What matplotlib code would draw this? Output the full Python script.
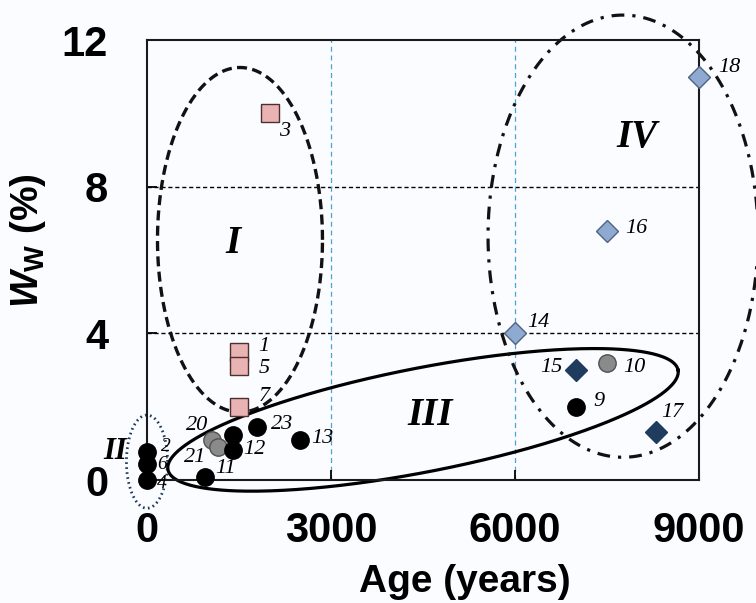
import numpy as np
import matplotlib.pyplot as plt

# --- data ---
# age in years, W_w in %
sq_age = [1500, 2000, 1500, 1500]
sq_ww = [3.5, 10.0, 3.1, 2.0]
sq_lab = ['1', '3', '5', '7']
sq_off = [(25, 5), (15, -18), (25, -2), (25, 10)]

gray_age = [1060, 1160, 7500]
gray_ww = [1.09, 0.90, 3.2]
gray_lab = ['20', '21', '10']
gray_off = [(-15, 15), (-23, -11), (27, -5)]

black_age = [0, 0, 0, 950, 1400, 1400, 1800, 2500, 7000]
black_ww = [0.76, 0.45, 0.0, 0.08, 0.82, 1.23, 1.45, 1.09, 2.0]
black_lab = ['2', '6', '4', '11', '12', '', '23', '13', '9']
black_off = [(19, 6), (15, -1), (15, -3), (20, 9), (21, 0), (0, 0), (25, 2), (22, 2), (23, 5)]

light_age = [6000, 7500, 9000]
light_ww = [4.0, 6.8, 11.0]
light_lab = ['14', '16', '18']
light_off = [(23, 11), (29, 2), (30, 9)]

dark_age = [7000, 8300]
dark_ww = [3.0, 1.3]
dark_lab = ['15', '17']
dark_off = [(-25, 3), (16, 20)]

# group ellipses: centre, first semi-axis vector, second semi-axis vector (data units)
ell_I = [(1516, 6.55), (1345, 0.0), (0.0, 4.7)]
ell_II = [(0, 0.50), (335, 0.0), (0.0, 1.27)]
ell_III = [(4500, 1.64), (4158, 1.36), (-163, 1.39)]
ell_IV = [(7761, 6.65), (2201, 0.0), (0.0, 6.03)]

group_names = ['I', 'II', 'III', 'IV']
group_pos = [(1400, 6.45), (-520, 0.78), (4620, 1.75), (7990, 9.35)]
group_size = [28, 22, 28, 28]

plt.rcParams['mathtext.fontset'] = 'custom'
plt.rcParams['mathtext.it'] = 'Liberation Sans:bold:italic'
plt.rcParams['mathtext.rm'] = 'Liberation Sans:bold'
plt.rcParams['mathtext.bf'] = 'Liberation Sans:bold'

bg = '#fbfcff'
fig = plt.figure(figsize=(7.56, 6.03), dpi=100, facecolor=bg)
ax = fig.add_axes([147 / 756, 1 - 480 / 603, 552 / 756, 440 / 603])
ax.set_facecolor(bg)

ax.set_xlim(0, 9000)
ax.set_ylim(0, 12)

# grid lines
for y in [4, 8]:
    ax.axhline(y, color='black', linestyle=(0, (3, 2)), linewidth=1.0, zorder=1)
for x in [3000, 6000]:
    ax.axvline(x, color='#4aa3d8', linestyle=(0, (4, 3)), linewidth=0.9, zorder=1)


def draw_ellipse(ell, **kw):
    t = np.linspace(0, 2 * np.pi, 400)
    (cx, cy), (ax1, ay1), (bx1, by1) = ell
    xs = cx + ax1 * np.cos(t) + bx1 * np.sin(t)
    ys = cy + ay1 * np.cos(t) + by1 * np.sin(t)
    ax.plot(xs, ys, clip_on=False, zorder=2, **kw)


draw_ellipse(ell_I, color='#111111', linewidth=2.4, linestyle=(0, (3, 1.6)))
draw_ellipse(ell_II, color='#1e3a5a', linewidth=2.0, linestyle=(0, (0.6, 1.2)))
draw_ellipse(ell_III, color='black', linewidth=2.3, linestyle='-')
draw_ellipse(ell_IV, color='#111111', linewidth=2.3, linestyle=(0, (4, 2.5, 1, 2.5)))

# markers
ax.plot(sq_age, sq_ww, 's', ms=12.5, mfc='#e8b3b2', mec='#4a3030', mew=1.0,
        linestyle='none', zorder=4, clip_on=False)
ax.plot(gray_age, gray_ww, 'o', ms=12.5, mfc='#8a8a8a', mec='#505050', mew=1.0,
        linestyle='none', zorder=4, clip_on=False)
ax.plot(black_age, black_ww, 'o', ms=12.5, mfc='black', mec='black',
        linestyle='none', zorder=5, clip_on=False)
ax.plot(light_age, light_ww, 'D', ms=11, mfc='#8eaad0', mec='#4f6282', mew=1.0,
        linestyle='none', zorder=4, clip_on=False)
ax.plot(dark_age, dark_ww, 'D', ms=11, mfc='#1f3b5e', mec='#1f3b5e',
        linestyle='none', zorder=4, clip_on=False)

# point labels
for xs, ys, labs, offs in [(sq_age, sq_ww, sq_lab, sq_off),
                           (gray_age, gray_ww, gray_lab, gray_off),
                           (black_age, black_ww, black_lab, black_off),
                           (light_age, light_ww, light_lab, light_off),
                           (dark_age, dark_ww, dark_lab, dark_off)]:
    for x, y, lab, off in zip(xs, ys, labs, offs):
        if lab:
            fs = 14 if x == 0 else 16
            ax.annotate(lab, (x, y), xytext=(off[0], off[1]), textcoords='offset pixels',
                        ha='center', va='center', fontsize=fs, style='italic',
                        family='Liberation Serif', zorder=6, annotation_clip=False)

# group labels
for name, pos, fs in zip(group_names, group_pos, group_size):
    ax.text(pos[0], pos[1], name, ha='center', va='center', fontsize=fs,
            style='italic', weight='bold', family='Liberation Serif', zorder=6)

# axes styling
for sp in ax.spines.values():
    sp.set_linewidth(1.5)
    sp.set_color('#1a1a1a')
ax.set_xticks([0, 3000, 6000, 9000])
ax.set_yticks([0, 4, 8, 12])
ax.tick_params(direction='in', length=7, width=1.3, labelsize=30, top=False, right=False)
ax.tick_params(axis='x', pad=22)
ax.tick_params(axis='y', pad=28)
for lab in ax.get_xticklabels() + ax.get_yticklabels():
    lab.set_fontweight('bold')
    lab.set_family('Liberation Sans')

ax.set_xlabel('Age (years)', fontsize=28, fontweight='bold', family='Liberation Sans')
ax.xaxis.set_label_coords((465 - 147) / 552, -0.19)
ax.set_ylabel(r'$W_{\mathrm{W}}$ (%)', fontsize=28, fontweight='bold',
              family='Liberation Sans', va='center')
ax.yaxis.set_label_coords(-0.216, 0.543)

fig.savefig('out.png', dpi=100, facecolor=bg)
